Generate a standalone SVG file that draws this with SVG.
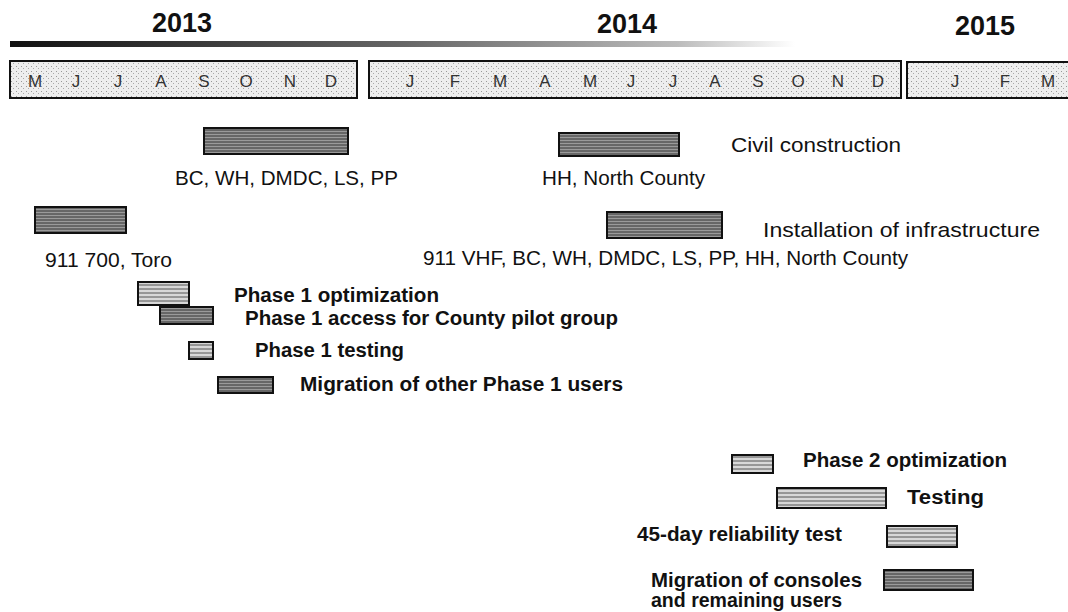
<svg xmlns="http://www.w3.org/2000/svg" width="1068" height="612" viewBox="0 0 1068 612">
<defs>
<pattern id="hatch" width="6" height="4" patternUnits="userSpaceOnUse">
<rect width="6" height="4" fill="#d8d8d8"/>
<line x1="0" y1="1" x2="6" y2="1" stroke="#555" stroke-width="1"/>
</pattern>
<pattern id="dark" width="6" height="3" patternUnits="userSpaceOnUse">
<rect width="6" height="3" fill="#9a9a9a"/>
<line x1="0" y1="1" x2="6" y2="1" stroke="#333" stroke-width="1"/>
</pattern>
<pattern id="stip" width="5" height="5" patternUnits="userSpaceOnUse">
<rect width="5" height="5" fill="#eeeeee"/>
<rect x="1" y="1" width="1" height="1" fill="#999"/>
<rect x="3" y="3" width="1" height="1" fill="#aaa"/>
</pattern>
<linearGradient id="band" x1="0" y1="0" x2="1" y2="0">
<stop offset="0" stop-color="#111"/>
<stop offset="0.5" stop-color="#666"/>
<stop offset="0.85" stop-color="#bbb"/>
<stop offset="1" stop-color="#fff"/>
</linearGradient>
</defs>
<style>
.yr{font-family:"Liberation Sans",Arial,sans-serif;font-size:27px;font-weight:bold;fill:#111;text-anchor:middle}
.mo{font-family:"Liberation Sans",Arial,sans-serif;font-size:17px;fill:#333;text-anchor:middle}
.lb{font-family:"Liberation Sans",Arial,sans-serif;font-size:21px;fill:#111}
.bl{font-family:"Liberation Sans",Arial,sans-serif;font-size:20px;font-weight:bold;fill:#111}
.box{fill:url(#stip);stroke:#111;stroke-width:2}
.bar{fill:url(#hatch);stroke:#111;stroke-width:2}
.dbar{fill:url(#dark);stroke:#111;stroke-width:2}
</style>
<rect width="1068" height="612" fill="#fff"/>
<g id="header">
<text class="yr" x="182" y="32">2013</text>
<text class="yr" x="627" y="33">2014</text>
<text class="yr" x="985" y="35">2015</text>
<rect x="10" y="41" width="785" height="6" fill="url(#band)"/>
</g>
<g id="months">
<rect class="box" x="10" y="61" width="347" height="37"/>
<rect class="box" x="369" y="61" width="532" height="37"/>
<rect class="box" x="907" y="62" width="166" height="36"/>
<text class="mo" y="87"><tspan x="35">M</tspan><tspan x="76">J</tspan><tspan x="118">J</tspan><tspan x="161">A</tspan><tspan x="204">S</tspan><tspan x="246">O</tspan><tspan x="290">N</tspan><tspan x="331">D</tspan></text>
<text class="mo" y="87"><tspan x="410">J</tspan><tspan x="455">F</tspan><tspan x="500">M</tspan><tspan x="545">A</tspan><tspan x="590">M</tspan><tspan x="631">J</tspan><tspan x="673">J</tspan><tspan x="715">A</tspan><tspan x="758">S</tspan><tspan x="798">O</tspan><tspan x="838">N</tspan><tspan x="878">D</tspan></text>
<text class="mo" y="87"><tspan x="955">J</tspan><tspan x="1005">F</tspan><tspan x="1048">M</tspan></text>
</g>
<g id="civil1"><rect class="dbar" x="204" y="128" width="144" height="26"/><text class="lb" x="175" y="185" textLength="223" lengthAdjust="spacingAndGlyphs">BC, WH, DMDC, LS, PP</text></g>
<g id="civil2"><rect class="dbar" x="559" y="133" width="120" height="23"/><text class="lb" x="731" y="152" textLength="170" lengthAdjust="spacingAndGlyphs">Civil construction</text><text class="lb" x="542" y="185" textLength="163" lengthAdjust="spacingAndGlyphs">HH, North County</text></g>
<g id="toro"><rect class="dbar" x="35" y="207" width="91" height="26"/><text class="lb" x="45" y="267" textLength="127" lengthAdjust="spacingAndGlyphs">911 700, Toro</text></g>
<g id="install"><rect class="dbar" x="607" y="212" width="115" height="26"/><text class="lb" x="763" y="237" textLength="277" lengthAdjust="spacingAndGlyphs">Installation of infrastructure</text><text class="lb" x="423" y="265" textLength="485" lengthAdjust="spacingAndGlyphs">911 VHF, BC, WH, DMDC, LS, PP, HH, North County</text></g>
<g id="p1opt"><rect class="bar" x="138" y="282" width="51" height="23"/><text class="bl" x="234" y="302" textLength="205" lengthAdjust="spacingAndGlyphs">Phase 1 optimization</text></g>
<g id="p1access"><rect class="dbar" x="160" y="307" width="53" height="17"/><text class="bl" x="245" y="325" textLength="373" lengthAdjust="spacingAndGlyphs">Phase 1 access for County pilot group</text></g>
<g id="p1test"><rect class="bar" x="189" y="342" width="24" height="17"/><text class="bl" x="255" y="357" textLength="149" lengthAdjust="spacingAndGlyphs">Phase 1 testing</text></g>
<g id="p1mig"><rect class="dbar" x="218" y="377" width="55" height="16"/><text class="bl" x="300" y="391" textLength="323" lengthAdjust="spacingAndGlyphs">Migration of other Phase 1 users</text></g>
<g id="p2opt"><rect class="bar" x="732" y="455" width="41" height="18"/><text class="bl" x="803" y="467" textLength="204" lengthAdjust="spacingAndGlyphs">Phase 2 optimization</text></g>
<g id="testing"><rect class="bar" x="777" y="488" width="109" height="20"/><text class="bl" x="907" y="504" textLength="77" lengthAdjust="spacingAndGlyphs">Testing</text></g>
<g id="rel45"><rect class="bar" x="887" y="526" width="70" height="21"/><text class="bl" x="637" y="541" textLength="205" lengthAdjust="spacingAndGlyphs">45-day reliability test</text></g>
<g id="migcons"><rect class="dbar" x="884" y="570" width="89" height="20"/><text class="bl" x="651" y="587" textLength="211" lengthAdjust="spacingAndGlyphs">Migration of consoles</text><text class="bl" x="651" y="607" textLength="191" lengthAdjust="spacingAndGlyphs">and remaining users</text></g>
<g id="connectors"></g>
</svg>
